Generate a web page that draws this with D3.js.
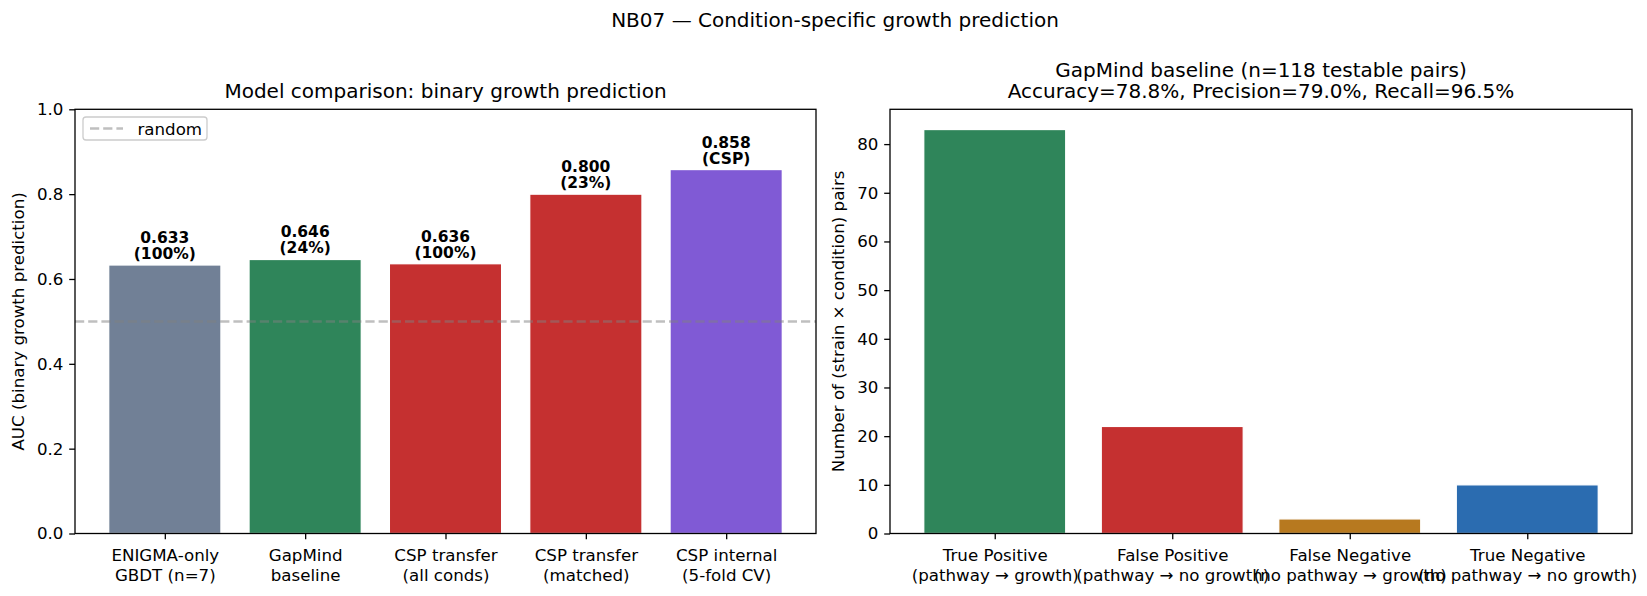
<!DOCTYPE html>
<html>
<head>
<meta charset="utf-8">
<script src="https://cdn.jsdelivr.net/npm/d3@7"></script>
<style>
  body { margin: 0; background: #fff; }
  svg { font-family: "DejaVu Sans", sans-serif; display: block; }
</style>
</head>
<body>
<svg id="chart"></svg>
<script>
// left panel data
let modelNames = ['ENIGMA-only\nGBDT (n=7)', 'GapMind\nbaseline', 'CSP transfer\n(all conds)', 'CSP transfer\n(matched)', 'CSP internal\n(5-fold CV)'];
let aucValues = [0.633, 0.646, 0.636, 0.800, 0.858];
let coverageLabels = ['100%', '24%', '100%', '23%', 'CSP'];
let modelColors = ['#718096', '#2F855A', '#C53030', '#C53030', '#805AD5'];
let aucTicks = [0, 0.2, 0.4, 0.6, 0.8, 1.0];

// right panel data
let outcomeNames = ['True Positive\n(pathway \u2192 growth)', 'False Positive\n(pathway \u2192 no growth)', 'False Negative\n(no pathway \u2192 growth)', 'True Negative\n(no pathway \u2192 no growth)'];
let outcomeCounts = [83, 22, 3, 10];
let outcomeColors = ['#2F855A', '#C53030', '#B7791F', '#2B6CB0'];
let countTicks = [0, 10, 20, 30, 40, 50, 60, 70, 80];

let width = 1647;
let height = 596;
let plotTop = 109.3, plotBottom = 533.5;
let tickFont = 16.67;
let font = 'DejaVu Sans';

let svg = d3.select('#chart').attr('width', width).attr('height', height);

// figure title
svg.append('text')
   .attr('x', 835).attr('y', 27)
   .attr('text-anchor', 'middle')
   .attr('font-size', 20)
   .text('NB07 \u2014 Condition-specific growth prediction');

let drawPanel = (opts) => {
  let g = svg.append('g');
  let n = opts.values.length;
  let pad = (n - 1 + 0.8) * 0.05;
  let x = d3.scaleLinear().domain([-0.4 - pad, n - 1 + 0.4 + pad]).range([opts.left, opts.right]);
  let y = d3.scaleLinear().domain(opts.yDomain).range([plotBottom, plotTop]);

  // bars
  g.selectAll('rect.bar')
   .data(opts.values)
   .enter()
   .append('rect')
   .attr('class', 'bar')
   .attr('x', (d, i) => x(i - 0.4))
   .attr('width', (d, i) => x(i + 0.4) - x(i - 0.4))
   .attr('y', d => y(d))
   .attr('height', d => y(0) - y(d))
   .attr('fill', (d, i) => opts.colors[i])
   .attr('stroke', '#fff')
   .attr('stroke-width', 1.3);

  if (opts.extra) opts.extra(g, x, y);

  // y axis
  let yAxis = d3.axisLeft(y).tickValues(opts.yTicks).tickFormat(opts.yFormat).tickSize(5.8).tickPadding(5.8);
  let ya = g.append('g').attr('transform', 'translate(' + opts.left + ',0)').call(yAxis)
            .attr('font-family', font).attr('font-size', tickFont);
  ya.select('.domain').remove();
  ya.selectAll('line').attr('stroke', '#000').attr('stroke-width', 1.3);
  ya.selectAll('text').attr('fill', '#000');

  // x axis
  let xAxis = d3.axisBottom(x).tickValues(d3.range(n)).tickFormat('').tickSize(5.8);
  let xa = g.append('g').attr('transform', 'translate(0,' + plotBottom + ')').call(xAxis)
            .attr('font-family', font).attr('font-size', tickFont);
  xa.select('.domain').remove();
  xa.selectAll('line').attr('stroke', '#000').attr('stroke-width', 1.3);
  xa.selectAll('.tick').each(function (d) {
    let lines = opts.names[d].split('\n');
    let t = d3.select(this).append('text')
      .attr('text-anchor', 'middle')
      .attr('fill', '#000');
    lines.forEach((l, k) => {
      t.append('tspan').attr('x', 0).attr('y', 27 + k * 20).text(l);
    });
  });

  // frame
  g.append('rect')
   .attr('x', opts.left).attr('y', plotTop)
   .attr('width', opts.right - opts.left).attr('height', plotBottom - plotTop)
   .attr('fill', 'none').attr('stroke', '#000').attr('stroke-width', 1.3);

  // y label
  g.append('text')
   .attr('transform', 'translate(' + opts.ylabelX + ',' + ((plotTop + plotBottom) / 2) + ') rotate(-90)')
   .attr('text-anchor', 'middle')
   .attr('font-size', tickFont)
   .text(opts.ylabel);

  // title
  opts.title.forEach((line, k) => {
    g.append('text')
     .attr('x', (opts.left + opts.right) / 2)
     .attr('y', 98 - (opts.title.length - 1 - k) * 21.5)
     .attr('text-anchor', 'middle')
     .attr('font-size', 20)
     .text(line);
  });
};

drawPanel({
  left: 75, right: 816,
  values: aucValues, colors: modelColors, names: modelNames,
  yDomain: [0, 1], yTicks: aucTicks, yFormat: d3.format('.1f'),
  ylabel: 'AUC (binary growth prediction)', ylabelX: 24,
  title: ['Model comparison: binary growth prediction'],
  extra: (g, x, y) => {
    // random reference line
    g.append('line')
     .attr('x1', x.range()[0]).attr('x2', x.range()[1])
     .attr('y1', y(0.5)).attr('y2', y(0.5))
     .attr('stroke', 'gray').attr('stroke-opacity', 0.5)
     .attr('stroke-width', 2.5).attr('stroke-dasharray', '9.2,4');
    // value labels
    g.selectAll('text.val')
     .data(aucValues)
     .enter()
     .append('text')
     .attr('class', 'val')
     .attr('text-anchor', 'middle')
     .attr('font-size', 15.5)
     .attr('font-weight', 'bold')
     .each(function (d, i) {
       let t = d3.select(this);
       t.append('tspan').attr('x', x(i)).attr('y', y(d) - 22).text(d3.format('.3f')(d));
       t.append('tspan').attr('x', x(i)).attr('y', y(d) - 6).text('(' + coverageLabels[i] + ')');
     });
    // legend
    let lg = g.append('g');
    lg.append('rect')
      .attr('x', 83).attr('y', 117).attr('width', 124).attr('height', 23)
      .attr('rx', 3).attr('fill', '#fff').attr('fill-opacity', 0.8)
      .attr('stroke', '#ccc').attr('stroke-width', 1.3);
    lg.append('line')
      .attr('x1', 90).attr('x2', 123).attr('y1', 128.5).attr('y2', 128.5)
      .attr('stroke', 'gray').attr('stroke-opacity', 0.5)
      .attr('stroke-width', 2.5).attr('stroke-dasharray', '9.2,4');
    lg.append('text')
      .attr('x', 137.5).attr('y', 134.5)
      .attr('font-size', tickFont)
      .text('random');
  }
});

drawPanel({
  left: 890, right: 1632,
  values: outcomeCounts, colors: outcomeColors, names: outcomeNames,
  yDomain: [0, d3.max(outcomeCounts) * 1.05], yTicks: countTicks, yFormat: d3.format('d'),
  ylabel: 'Number of (strain \u00d7 condition) pairs', ylabelX: 844,
  title: ['GapMind baseline (n=118 testable pairs)', 'Accuracy=78.8%, Precision=79.0%, Recall=96.5%']
});
</script>
</body>
</html>
